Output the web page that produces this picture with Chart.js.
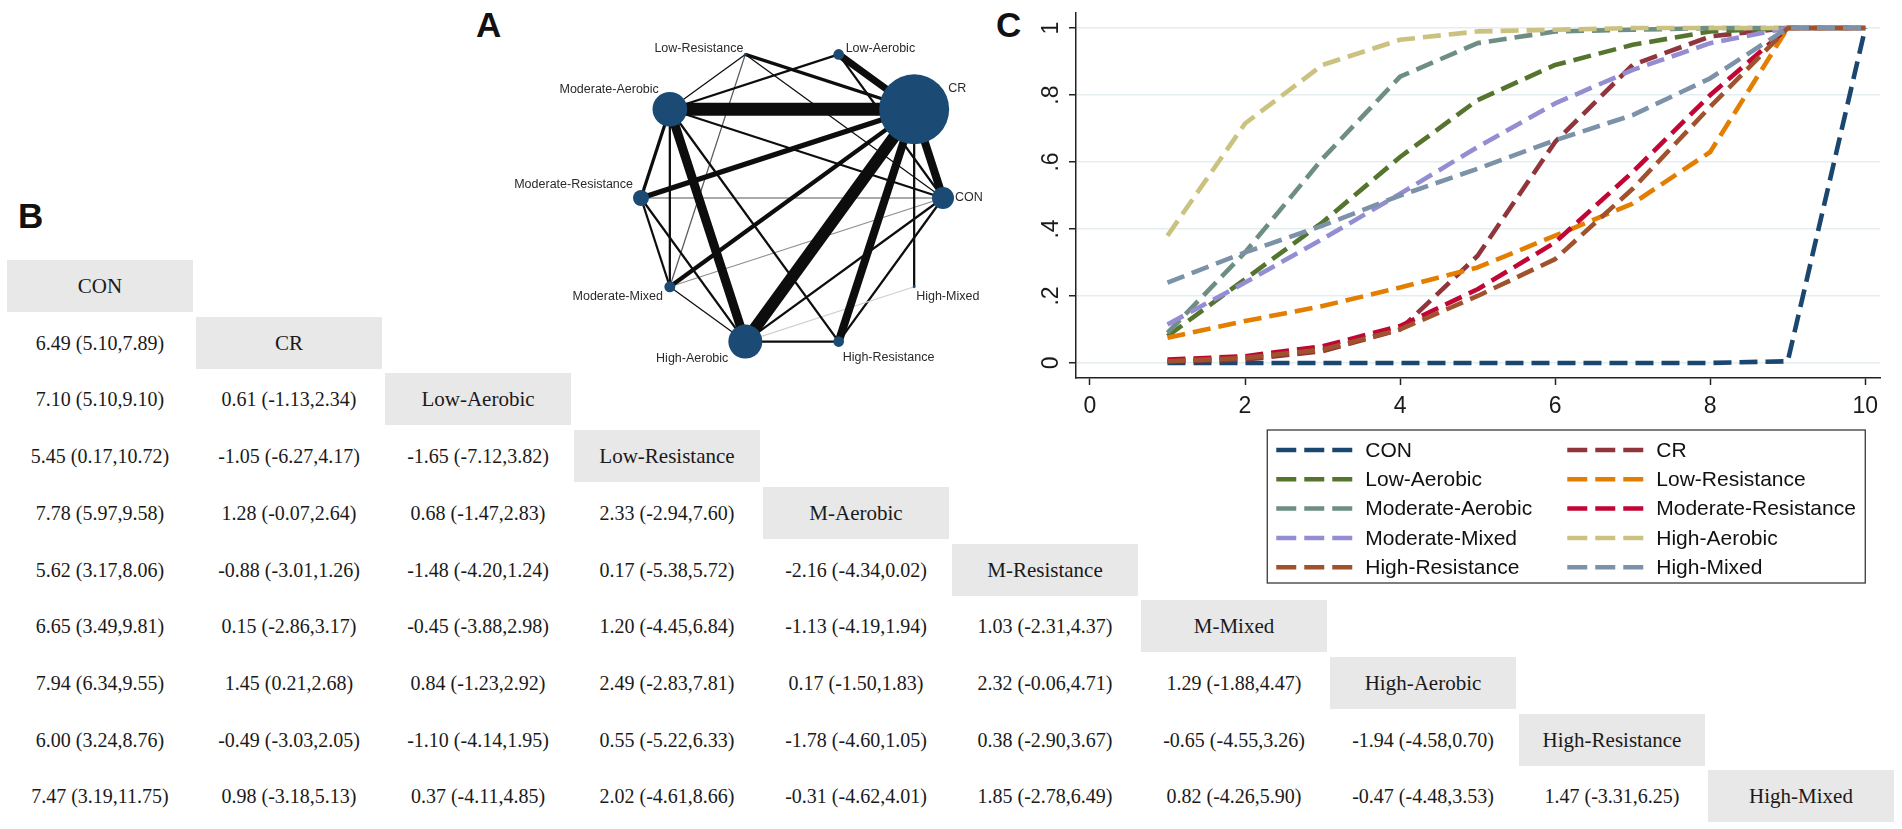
<!DOCTYPE html>
<html>
<head>
<meta charset="utf-8">
<script src="https://cdn.jsdelivr.net/npm/chart.js@4.4.0/dist/chart.umd.min.js"></script>
<style>
  html, body { margin: 0; padding: 0; background: #fff; }
  body { width: 1902px; height: 829px; position: relative; overflow: hidden; font-family: "Liberation Sans", Arial, sans-serif; }
  .tag { position: absolute; font-weight: bold; font-size: 35px; line-height: 1; color: #111; }
  #league div { position: absolute; width: 186px; height: 52px; line-height: 52px; text-align: center;
    font-family: "Liberation Serif", "Times New Roman", serif; font-size: 20px; color: #1a1a1a; white-space: nowrap; }
  #league .hd { background: #e8e8e8; font-size: 21px; }
  canvas { position: absolute; }
</style>
</head>
<body>
<div class="tag" style="left:476px;top:7px">A</div>
<div class="tag" style="left:18px;top:198px">B</div>
<div class="tag" style="left:996px;top:7px">C</div>
<div id="league"></div>
<canvas id="net" width="500" height="370" style="left:500px;top:20px;width:500px;height:370px"></canvas>
<canvas id="rank" width="902" height="600" style="left:1000px;top:0px;width:902px;height:600px"></canvas>
<script>
// treatments (order used in panel C and the league table)
const treatments = ["CON", "CR", "Low-Aerobic", "Low-Resistance", "Moderate-Aerobic",
  "Moderate-Resistance", "Moderate-Mixed", "High-Aerobic", "High-Resistance", "High-Mixed"];
const tableHeads = ["CON", "CR", "Low-Aerobic", "Low-Resistance", "M-Aerobic",
  "M-Resistance", "M-Mixed", "High-Aerobic", "High-Resistance", "High-Mixed"];

// panel C : cumulative ranking probabilities
const ranks = [1, 2, 3, 4, 5, 6, 7, 8, 9, 10];
const cumCON = [0, 0, 0, 0, 0, 0, 0, 0, 0.005, 1];
const cumCR = [0.005, 0.01, 0.035, 0.10, 0.32, 0.66, 0.89, 0.975, 1, 1];
const cumLowAerobic = [0.08, 0.25, 0.42, 0.615, 0.785, 0.89, 0.95, 0.99, 1, 1];
const cumLowResistance = [0.075, 0.125, 0.17, 0.225, 0.285, 0.38, 0.476, 0.63, 1, 1];
const cumModAerobic = [0.09, 0.33, 0.61, 0.855, 0.955, 0.99, 0.995, 1, 1, 1];
const cumModResistance = [0.01, 0.02, 0.05, 0.11, 0.22, 0.36, 0.57, 0.80, 1, 1];
const cumModMixed = [0.115, 0.24, 0.37, 0.505, 0.645, 0.775, 0.875, 0.955, 1, 1];
const cumHighAerobic = [0.38, 0.715, 0.89, 0.965, 0.99, 0.995, 1, 1, 1, 1];
const cumHighResistance = [0.005, 0.015, 0.04, 0.10, 0.20, 0.31, 0.52, 0.765, 1, 1];
const cumHighMixed = [0.24, 0.33, 0.41, 0.5, 0.58, 0.665, 0.74, 0.85, 1, 1];
const xTicks = [0, 2, 4, 6, 8, 10];
const yTicks = [0, 0.2, 0.4, 0.6, 0.8, 1];

// panel B : league table, row i compares treatment i with columns 0..i-1
const leagueRows = [
  ["6.49 (5.10,7.89)"],
  ["7.10 (5.10,9.10)", "0.61 (-1.13,2.34)"],
  ["5.45 (0.17,10.72)", "-1.05 (-6.27,4.17)", "-1.65 (-7.12,3.82)"],
  ["7.78 (5.97,9.58)", "1.28 (-0.07,2.64)", "0.68 (-1.47,2.83)", "2.33 (-2.94,7.60)"],
  ["5.62 (3.17,8.06)", "-0.88 (-3.01,1.26)", "-1.48 (-4.20,1.24)", "0.17 (-5.38,5.72)", "-2.16 (-4.34,0.02)"],
  ["6.65 (3.49,9.81)", "0.15 (-2.86,3.17)", "-0.45 (-3.88,2.98)", "1.20 (-4.45,6.84)", "-1.13 (-4.19,1.94)", "1.03 (-2.31,4.37)"],
  ["7.94 (6.34,9.55)", "1.45 (0.21,2.68)", "0.84 (-1.23,2.92)", "2.49 (-2.83,7.81)", "0.17 (-1.50,1.83)", "2.32 (-0.06,4.71)", "1.29 (-1.88,4.47)"],
  ["6.00 (3.24,8.76)", "-0.49 (-3.03,2.05)", "-1.10 (-4.14,1.95)", "0.55 (-5.22,6.33)", "-1.78 (-4.60,1.05)", "0.38 (-2.90,3.67)", "-0.65 (-4.55,3.26)", "-1.94 (-4.58,0.70)"],
  ["7.47 (3.19,11.75)", "0.98 (-3.18,5.13)", "0.37 (-4.11,4.85)", "2.02 (-4.61,8.66)", "-0.31 (-4.62,4.01)", "1.85 (-2.78,6.49)", "0.82 (-4.26,5.90)", "-0.47 (-4.48,3.53)", "1.47 (-3.31,6.25)"]
];

// panel A : network (nodes in circle order, size ~ participants, edges ~ number of studies)
const netNodes = ["Low-Resistance", "Low-Aerobic", "CR", "CON", "High-Mixed",
  "High-Resistance", "High-Aerobic", "Moderate-Mixed", "Moderate-Resistance", "Moderate-Aerobic"];
const netParticipants = [2, 28, 1225, 121, 2, 28, 289, 30, 64, 300];
const netEdges = [
  ["CR", "Moderate-Aerobic", 13], ["CR", "High-Aerobic", 12], ["CR", "High-Resistance", 8],
  ["CR", "CON", 8], ["CR", "Low-Aerobic", 7], ["CR", "Moderate-Resistance", 5],
  ["CR", "Moderate-Mixed", 4], ["CR", "Low-Resistance", 3], ["CR", "High-Mixed", 2],
  ["Moderate-Aerobic", "High-Aerobic", 9], ["Moderate-Aerobic", "Moderate-Resistance", 3],
  ["Moderate-Aerobic", "Moderate-Mixed", 2], ["Moderate-Aerobic", "Low-Aerobic", 2],
  ["Moderate-Aerobic", "Low-Resistance", 1], ["Moderate-Aerobic", "CON", 2],
  ["Moderate-Aerobic", "High-Resistance", 2], ["Moderate-Resistance", "CON", 1],
  ["Moderate-Resistance", "Moderate-Mixed", 2], ["Moderate-Resistance", "High-Aerobic", 2],
  ["Moderate-Mixed", "CON", 1], ["Moderate-Mixed", "High-Aerobic", 1],
  ["Moderate-Mixed", "Low-Resistance", 1], ["High-Aerobic", "High-Resistance", 2],
  ["High-Aerobic", "High-Mixed", 1], ["High-Aerobic", "CON", 2],
  ["High-Resistance", "CON", 2], ["Low-Resistance", "CON", 1], ["Low-Aerobic", "CON", 2]
];

// ---------- league table ----------
const league = document.getElementById("league");
function cell(txt, row, col, head) {
  const d = document.createElement("div");
  d.textContent = txt;
  if (head) d.className = "hd";
  d.style.left = (7 + 189 * col) + "px";
  d.style.top = (260 + 56.7 * row) + "px";
  league.appendChild(d);
}
tableHeads.forEach((h, i) => {
  cell(h, i, i, true);
  if (i > 0) leagueRows[i - 1].forEach((v, j) => cell(v, i, j, false));
});

// ---------- A: network plot ----------
const R = 151, cx = 292, cy = 178, netW = 500, netH = 370;
const nodePts = netNodes.map((n, k) => {
  const a = (108 - 36 * k) * Math.PI / 180;
  return { x: Math.cos(a), y: Math.sin(a) };
});
const greyEdges = {
  "Moderate-Resistance|CON": "#8e8e8e",
  "Moderate-Mixed|CON": "#8e8e8e",
  "High-Aerobic|High-Mixed": "#d0d0d0",
  "Moderate-Mixed|Low-Resistance": "#5a5a5a"
};
const edgeSets = netEdges.map(e => ({
  data: [nodePts[netNodes.indexOf(e[0])], nodePts[netNodes.indexOf(e[1])]],
  showLine: true,
  borderColor: greyEdges[e[0] + "|" + e[1]] || "#0d0d0d",
  borderWidth: 0.3 + e[2] * 0.97,
  borderCapStyle: "butt",
  pointRadius: 0,
  order: 1
}));
// label placement around each node: [align, dx, dy]
const labelPlace = {
  "Low-Resistance": ["right", -2, -6], "Low-Aerobic": ["left", 7, -6], "CR": ["left", 34, -21],
  "CON": ["left", 12, 0], "High-Mixed": ["left", 2, 10], "High-Resistance": ["left", 4, 16],
  "High-Aerobic": ["right", -17, 17], "Moderate-Mixed": ["right", -7, 10],
  "Moderate-Resistance": ["right", -8, -13], "Moderate-Aerobic": ["right", -11, -20]
};
const netLabels = {
  id: "netLabels",
  afterDatasetsDraw(chart) {
    const ctx = chart.ctx, meta = chart.getDatasetMeta(0);
    ctx.save();
    ctx.font = '12.5px "Liberation Sans", Arial, sans-serif';
    ctx.fillStyle = "#2a2a2a";
    ctx.textBaseline = "middle";
    netNodes.forEach((n, i) => {
      const el = meta.data[i], p = labelPlace[n];
      ctx.textAlign = p[0];
      ctx.fillText(n, el.x + p[1], el.y + p[2]);
    });
    ctx.restore();
  }
};
new Chart(document.getElementById("net"), {
  type: "scatter",
  data: {
    datasets: [{
      data: nodePts,
      pointRadius: netParticipants.map(v => Math.max(1.3, Math.sqrt(v))),
      pointBackgroundColor: "#1b4b75",
      pointBorderWidth: 0,
      clip: false,
      order: 0
    }].concat(edgeSets)
  },
  options: {
    responsive: false,
    animation: false,
    layout: { padding: 0, autoPadding: false },
    scales: {
      x: { type: "linear", display: false, min: -cx / R, max: (netW - cx) / R },
      y: { type: "linear", display: false, min: -(netH - cy) / R, max: cy / R }
    },
    plugins: { legend: { display: false }, tooltip: { enabled: false } }
  },
  plugins: [netLabels]
});

// ---------- C: cumulative ranking plot ----------
const series = [cumCON, cumCR, cumLowAerobic, cumLowResistance, cumModAerobic,
  cumModResistance, cumModMixed, cumHighAerobic, cumHighResistance, cumHighMixed];
const colors = ["#1a476f", "#90353b", "#55752f", "#e37e00", "#6e8e84",
  "#c10534", "#938dd2", "#cac27e", "#a0522d", "#7b92a8"];
const axisFont = { family: '"Liberation Sans", Arial, sans-serif', size: 23 };

const yLabels = {
  id: "yLabels",
  afterDraw(chart) {
    const ctx = chart.ctx, ys = chart.scales.y;
    ctx.save();
    ctx.font = '23px "Liberation Sans", Arial, sans-serif';
    ctx.fillStyle = "#1a1a1a";
    ctx.textAlign = "center";
    ctx.textBaseline = "middle";
    ys.ticks.forEach(t => {
      const v = t.value;
      const s = Number.isInteger(v) ? String(v) : v.toFixed(1).replace(/^0/, "");
      ctx.save();
      ctx.translate(chart.chartArea.left - 24, ys.getPixelForValue(v));
      ctx.rotate(-Math.PI / 2);
      ctx.fillText(s, 0, 0);
      ctx.restore();
    });
    ctx.restore();
  }
};
const boxLegend = {
  id: "boxLegend",
  afterDraw(chart) {
    const ctx = chart.ctx;
    const right = chart.scales.x.getPixelForValue(10);
    const w = 598, h = 153, left = right - w, top = chart.chartArea.bottom + 52;
    ctx.save();
    ctx.fillStyle = "#fff";
    ctx.fillRect(left, top, w, h);
    ctx.strokeStyle = "#3a3a3a";
    ctx.lineWidth = 1.3;
    ctx.strokeRect(left, top, w, h);
    ctx.font = '21px "Liberation Sans", Arial, sans-serif';
    ctx.textBaseline = "middle";
    ctx.textAlign = "left";
    chart.data.datasets.forEach((ds, i) => {
      const col = i % 2, row = Math.floor(i / 2);
      const x0 = left + (col ? 300 : 9), y = top + 20 + row * 29.3;
      ctx.strokeStyle = ds.borderColor;
      ctx.lineWidth = 4.5;
      ctx.setLineDash([20, 8]);
      ctx.beginPath();
      ctx.moveTo(x0, y);
      ctx.lineTo(x0 + 77, y);
      ctx.stroke();
      ctx.setLineDash([]);
      ctx.fillStyle = "#111";
      ctx.fillText(ds.label, x0 + 89, y + 1);
    });
    ctx.restore();
  }
};

new Chart(document.getElementById("rank"), {
  type: "line",
  data: {
    datasets: treatments.map((t, i) => ({
      label: t,
      data: ranks.map((r, k) => ({ x: r, y: series[i][k] })),
      borderColor: colors[i],
      borderWidth: 4.6,
      borderDash: [18, 8],
      borderCapStyle: "butt",
      borderJoinStyle: "round",
      pointRadius: 0,
      tension: 0,
      fill: false,
      order: 10 - i
    }))
  },
  options: {
    responsive: false,
    animation: false,
    layout: { padding: { top: 13, right: 22, bottom: 172, left: 0 }, autoPadding: false },
    scales: {
      x: {
        type: "linear", min: -0.18, max: 10.19,
        afterBuildTicks: s => { s.ticks = xTicks.map(v => ({ value: v })); },
        afterFit: s => { s.height = 50; },
        grid: { drawOnChartArea: false, tickLength: 7, tickColor: "#222", tickWidth: 1.5 },
        border: { display: true, color: "#222", width: 1.5 },
        ticks: { font: axisFont, color: "#1a1a1a", padding: 8, maxRotation: 0, callback: v => String(v) }
      },
      y: {
        type: "linear", min: -0.045, max: 1.045,
        afterBuildTicks: s => { s.ticks = yTicks.map(v => ({ value: v })); },
        afterFit: s => { s.width = 76; },
        grid: { color: "#e4eef1", lineWidth: 1.5, tickLength: 7, tickColor: "#222", tickWidth: 1.5 },
        border: { display: true, color: "#222", width: 1.5 },
        ticks: { display: false }
      }
    },
    plugins: { legend: { display: false }, tooltip: { enabled: false } }
  },
  plugins: [yLabels, boxLegend]
});
</script>
</body>
</html>
